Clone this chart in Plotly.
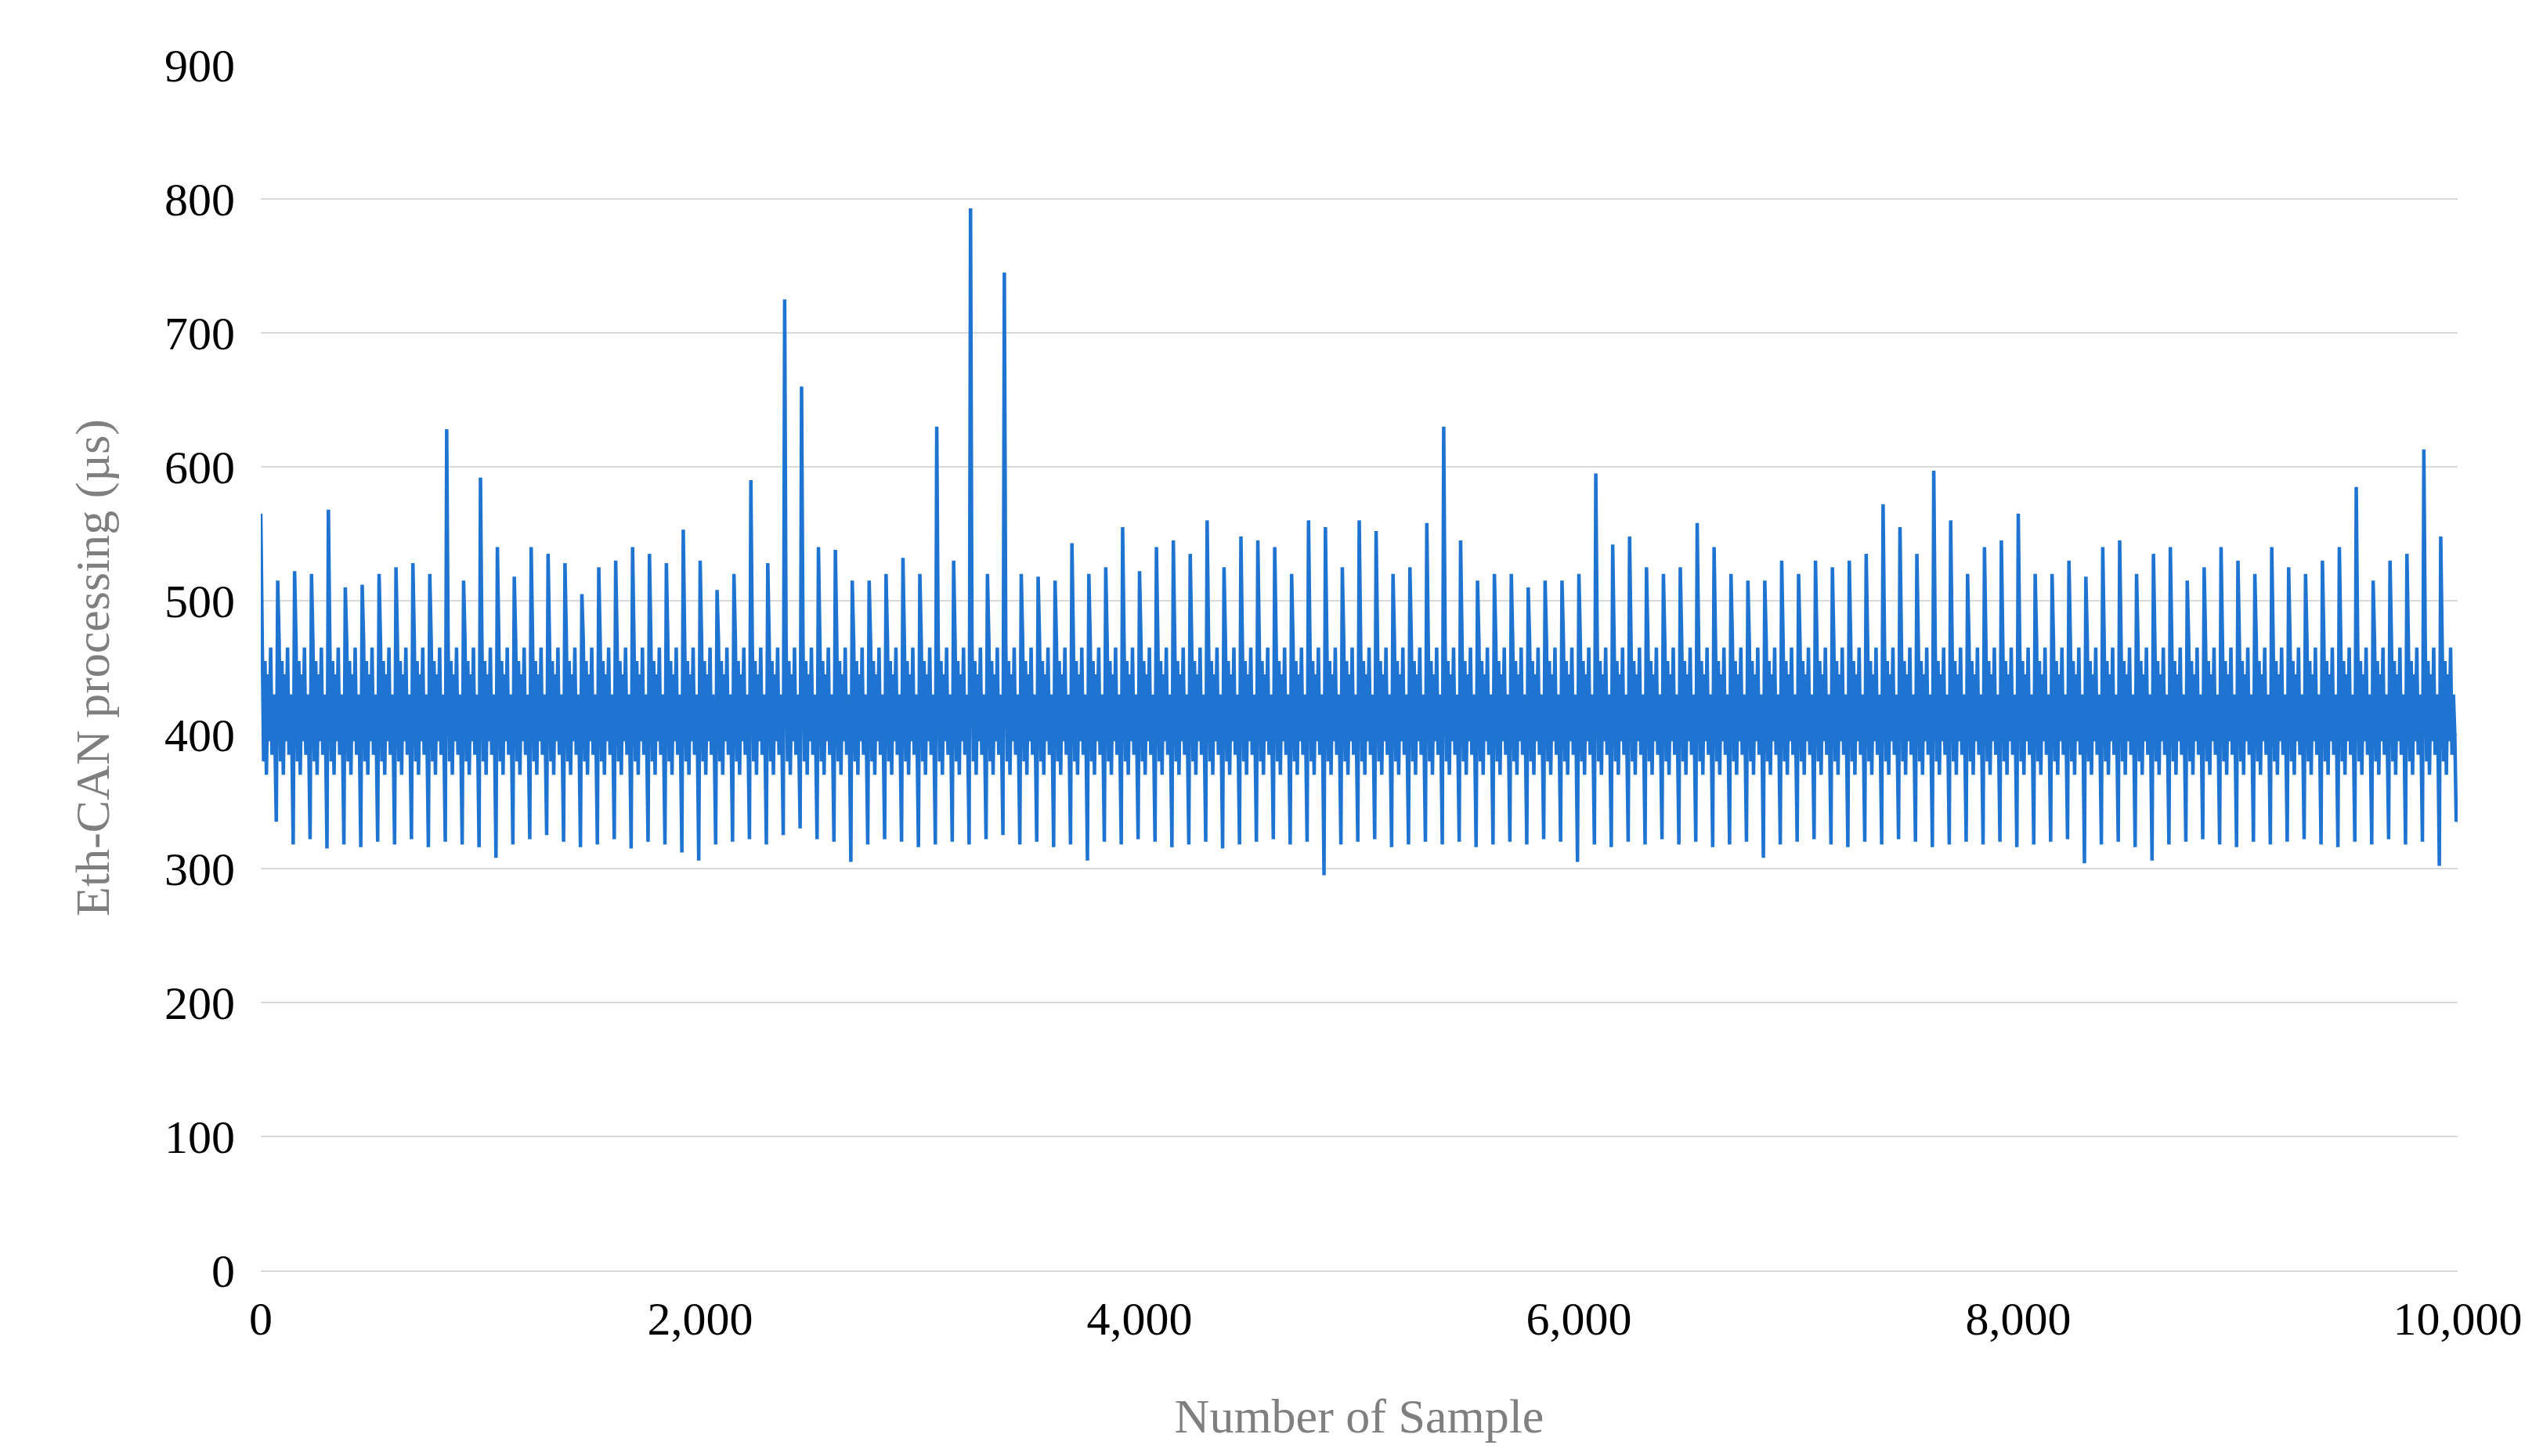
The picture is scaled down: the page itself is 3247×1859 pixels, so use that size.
import plotly.graph_objects as go

# Peak value of each oscillation cycle
peaks = [565,515,522,520,568,510,512,520,525,528,
         520,628,515,592,540,518,540,535,528,505,
         525,530,540,535,528,553,530,508,520,590,
         528,725,660,540,538,515,515,520,532,520,
         630,530,793,520,745,520,518,515,543,520,
         525,555,522,540,545,535,560,525,548,545,
         540,520,560,555,525,560,552,520,525,558,
         630,545,515,520,520,510,515,515,520,595,
         542,548,525,520,525,558,540,520,515,515,
         530,520,530,525,530,535,572,555,535,597,
         560,520,540,545,565,520,520,530,518,540,
         545,520,535,540,515,525,540,530,520,540,
         525,520,530,540,585,515,530,535,613,548]
# Trough value of each cycle
troughs = [335,318,322,315,318,316,320,318,322,316,
           320,318,316,308,318,322,325,320,316,318,
           322,315,320,318,312,306,318,320,322,318,
           325,330,322,320,305,318,322,320,316,318,
           320,318,322,325,318,320,316,318,306,320,
           318,322,320,316,318,320,315,318,320,322,
           318,320,295,318,320,322,316,318,320,318,
           320,316,318,320,318,322,320,305,318,316,
           320,318,322,318,320,316,318,320,308,318,
           320,322,318,316,320,318,322,320,316,318,
           320,318,320,316,318,320,322,304,318,320,
           316,306,318,320,322,318,316,320,318,320,
           322,318,316,320,318,322,318,320,302,335]
# intermediate levels visited within each cycle
band = [470, 380, 455, 370, 445, 395, 465, 385, 430, 400]

n_samples = 10000
ncyc = len(peaks)
step = n_samples / ncyc
xs, ys = [], []
for i in range(ncyc):
    levels = [peaks[i]] + band + [troughs[i]]
    for k, v in enumerate(levels):
        xs.append(i * step + k * step / len(levels))
        ys.append(v)
xs.append(n_samples); ys.append(340)

fig = go.Figure(go.Scatter(x=xs, y=ys, mode="lines",
                           line=dict(color="#1f74d2", width=4.5)))
font = dict(family="Liberation Serif, Times New Roman, serif", size=60, color="#000")
fig.update_layout(
    width=3247, height=1859, plot_bgcolor="white", paper_bgcolor="white",
    margin=dict(l=325, r=117, t=75, b=245), showlegend=False, font=font,
    xaxis=dict(range=[0, 10000], tickvals=[0,2000,4000,6000,8000,10000],
               tickformat=",", showgrid=False, showline=True, linecolor="#d9d9d9",
               linewidth=2, ticks="outside", ticklen=8, tickcolor="rgba(0,0,0,0)", zeroline=False,
               title=dict(text="Number of Sample", font=dict(size=62, color="#7f7f7f"), standoff=70)),
    yaxis=dict(range=[0, 900], dtick=100, showgrid=True, gridcolor="#d9d9d9",
               gridwidth=2, zeroline=False, ticks="outside", ticklen=20, tickcolor="rgba(0,0,0,0)",
               title=dict(text="Eth-CAN processing (µs)", font=dict(size=62, color="#7f7f7f"), standoff=50)),
)
fig.write_html("out.html")
